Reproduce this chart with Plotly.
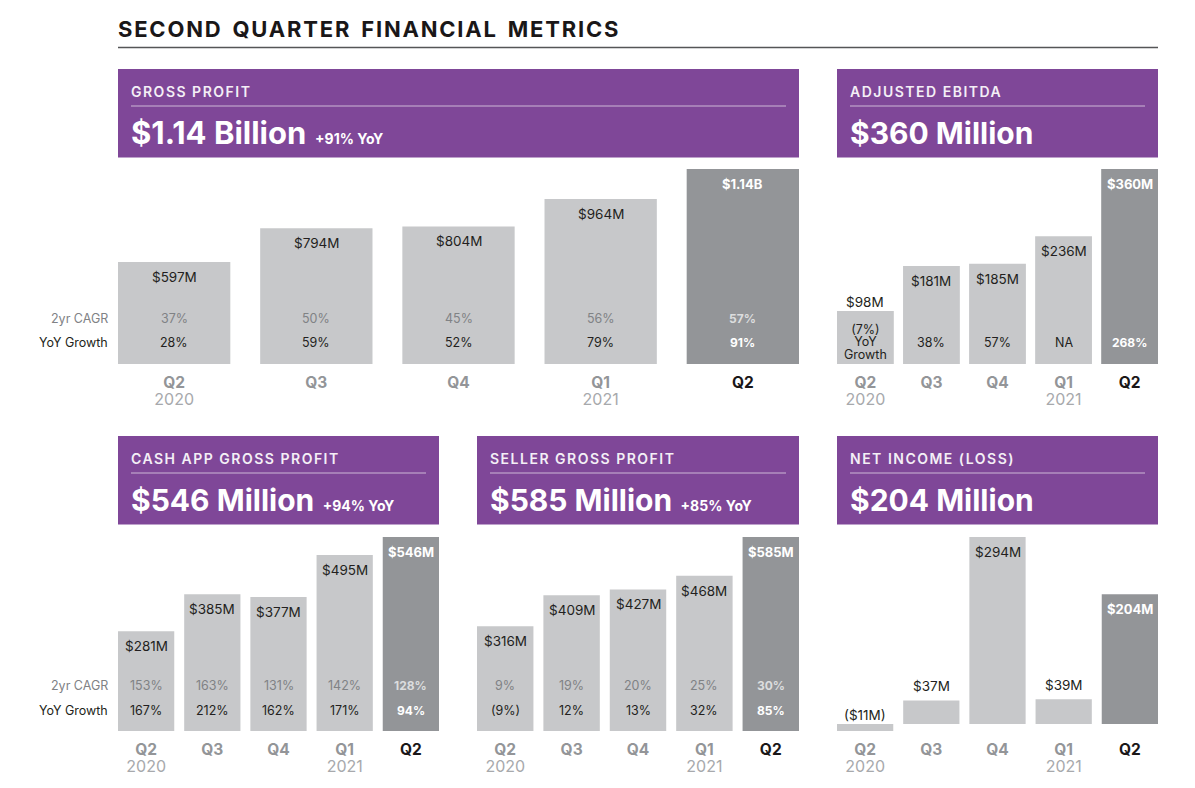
import plotly.graph_objects as go

W, H = 1195, 788
PURPLE = "#7f4798"
LIGHT_BAR = "#c7c8ca"
DARK_BAR = "#939598"
INK = "#231f20"
FONT = "Inter"

# ── Data ─────────────────────────────────────────────────────────
quarters = ["Q2 2020", "Q3 2020", "Q4 2020", "Q1 2021", "Q2 2021"]
tick_quarters = ["Q2", "Q3", "Q4", "Q1", "Q2"]
tick_years = ["2020", "", "", "2021", ""]

gross_values = [597, 794, 804, 964, 1140]
gross_labels = ["$597M", "$794M", "$804M", "$964M", "$1.14B"]
gross_cagr = ["37%", "50%", "45%", "56%", "57%"]
gross_yoy = ["28%", "59%", "52%", "79%", "91%"]

ebitda_values = [98, 181, 185, 236, 360]
ebitda_labels = ["$98M", "$181M", "$185M", "$236M", "$360M"]
ebitda_yoy = ["(7%)<br>YoY<br>Growth", "38%", "57%", "NA", "268%"]

cash_values = [281, 385, 377, 495, 546]
cash_labels = ["$281M", "$385M", "$377M", "$495M", "$546M"]
cash_cagr = ["153%", "163%", "131%", "142%", "128%"]
cash_yoy = ["167%", "212%", "162%", "171%", "94%"]

seller_values = [316, 409, 427, 468, 585]
seller_labels = ["$316M", "$409M", "$427M", "$468M", "$585M"]
seller_cagr = ["9%", "19%", "20%", "25%", "30%"]
seller_yoy = ["(9%)", "12%", "13%", "32%", "85%"]

net_values = [-11, 37, 294, 39, 204]
net_labels = ["($11M)", "$37M", "$294M", "$39M", "$204M"]


def px(x):
    return x / W


def py(y):
    return 1 - y / H


panels = [
    dict(name="GROSS PROFIT", big="$1.14 Billion", small="+91% YoY", big_size=31,
         vals=gross_values, labels=gross_labels, cagr=gross_cagr, yoy=gross_yoy,
         x0=118, x1=799, top=169, bottom=364, head=69, width=0.79, row_y=(318, 343), side=True),
    dict(name="ADJUSTED EBITDA", big="$360 Million", small="", big_size=30,
         vals=ebitda_values, labels=ebitda_labels, cagr=None, yoy=ebitda_yoy,
         x0=837, x1=1158, top=169, bottom=364, head=69, width=0.86, row_y=(318, 343), side=False),
    dict(name="CASH APP GROSS PROFIT", big="$546 Million", small="+94% YoY", big_size=30,
         vals=cash_values, labels=cash_labels, cagr=cash_cagr, yoy=cash_yoy,
         x0=118, x1=439, top=537, bottom=731, head=436, width=0.85, row_y=(685, 710), side=True),
    dict(name="SELLER GROSS PROFIT", big="$585 Million", small="+85% YoY", big_size=30,
         vals=seller_values, labels=seller_labels, cagr=seller_cagr, yoy=seller_yoy,
         x0=477, x1=799, top=537, bottom=731, head=436, width=0.85, row_y=(685, 710), side=False),
    dict(name="NET INCOME (LOSS)", big="$204 Million", small="", big_size=30,
         vals=net_values, labels=net_labels, cagr=None, yoy=None,
         x0=837, x1=1158, top=537, bottom=731, head=436, width=0.85, row_y=None, side=False),
]

fig = go.Figure()
shapes, notes = [], []


def note(x, y, text, size, color, anchor="center", xref="paper", yref="paper", yshift=0):
    notes.append(dict(x=x, y=y, xref=xref, yref=yref, text=text, showarrow=False,
                      xanchor=anchor, yanchor="middle", yshift=yshift, align=anchor,
                      font=dict(family=FONT, size=size, color=color)))


# Page title and rule
note(px(116), py(29),
     '<b><span style="letter-spacing:1.8px;word-spacing:3px">SECOND QUARTER FINANCIAL METRICS</span></b>',
     22, "#1a1718", "left")
shapes.append(dict(type="line", xref="paper", yref="paper", x0=px(118), x1=px(1158),
                   y0=py(47.5), y1=py(47.5), line=dict(color="#555657", width=1.5)))

for i, p in enumerate(panels):
    suffix = "" if i == 0 else str(i + 1)
    w = p["width"]
    colors = [LIGHT_BAR] * 4 + [DARK_BAR]
    fig.add_trace(go.Bar(x=quarters, y=p["vals"], width=w, marker=dict(color=colors, line_width=0),
                         xaxis="x" + suffix, yaxis="y" + suffix, showlegend=False,
                         hovertemplate="%{x}: %{y}M<extra></extra>"))

    ticktext = []
    for j, (q, yr) in enumerate(zip(tick_quarters, tick_years)):
        color = "#1a1718" if j == 4 else "#939598"
        t = f'<span style="font-size:15.5px;color:{color}"><b>{q}</b></span>'
        if yr:
            t += f'<br><span style="font-size:16px;color:#a7a9ac">{yr}</span>'
        ticktext.append(t)

    fig.update_layout({
        "xaxis" + suffix: dict(domain=[px(p["x0"]), px(p["x1"])], type="category",
                               categoryorder="array", categoryarray=quarters,
                               range=[-w / 2, 4 + w / 2], anchor="y" + suffix,
                               tickmode="array", tickvals=quarters, ticktext=ticktext,
                               ticks="outside", ticklen=7, tickcolor="rgba(0,0,0,0)",
                               showgrid=False, zeroline=False, showline=False,
                               tickfont=dict(family=FONT, size=13, color="#939598")),
        "yaxis" + suffix: dict(domain=[py(p["bottom"]), py(p["top"])],
                               range=[min(0, min(p["vals"])), max(p["vals"])],
                               anchor="x" + suffix, visible=False, showgrid=False, zeroline=False),
    })

    # Purple header
    shapes.append(dict(type="rect", xref="paper", yref="paper", x0=px(p["x0"]), x1=px(p["x1"]),
                       y0=py(p["head"]), y1=py(p["head"] + 88.5), fillcolor=PURPLE, line_width=0,
                       layer="below"))
    shapes.append(dict(type="line", xref="paper", yref="paper", x0=px(p["x0"] + 13), x1=px(p["x1"] - 13),
                       y0=py(p["head"] + 37), y1=py(p["head"] + 37),
                       line=dict(color="#cdb7d6", width=1.2)))
    note(px(p["x0"] + 11), py(p["head"] + 22.5),
         f'<span style="letter-spacing:1.5px;font-weight:600">{p["name"]}</span>', 14, "#f4eff6", "left")
    head_text = f'<b>{p["big"]}</b>'
    if p["small"]:
        head_text += f' <span style="font-size:14px"><b>{p["small"]}</b></span>'
    note(px(p["x0"] + 11), py(p["head"] + 64), head_text, p["big_size"], "white", "left")

    # Value labels: inside the bar unless it is too short
    x_ref, y_ref = "x" + suffix, "y" + suffix
    scale = (p["bottom"] - p["top"]) / (max(p["vals"]) - min(0, min(p["vals"])))
    for j, (q, v, lab) in enumerate(zip(quarters, p["vals"], p["labels"])):
        if v * scale < 60:
            lift = 14 if 30 < v < 50 else 9
            note(q, max(v, 0), lab, 13.5, INK, xref=x_ref, yref=y_ref, yshift=lift)
        elif j == 4:
            note(q, v, f"<b>{lab}</b>", 13, "white", xref=x_ref, yref=y_ref, yshift=-15)
        else:
            note(q, v, lab, 13.5, INK, xref=x_ref, yref=y_ref, yshift=-15)

    # Growth rows
    if p["yoy"]:
        y_cagr, y_yoy = p["row_y"]
        for j, q in enumerate(quarters):
            if p["cagr"]:
                if j == 4:
                    note(q, py(y_cagr), f'<b>{p["cagr"][j]}</b>', 12, "#dcddde", xref=x_ref)
                else:
                    note(q, py(y_cagr), p["cagr"][j], 12.5, "#808285", xref=x_ref)
            if "<br>" in p["yoy"][j]:
                # tight three-line label: annotation line height follows the base font size
                note(q, py(y_yoy - 1), f'<span style="font-size:12.5px">{p["yoy"][j]}</span>',
                     9.6, INK, xref=x_ref)
            elif j == 4:
                note(q, py(y_yoy), f'<b>{p["yoy"][j]}</b>', 12, "white", xref=x_ref)
            else:
                note(q, py(y_yoy), p["yoy"][j], 12.5, INK, xref=x_ref)
    if p["side"]:
        note(px(110), py(p["row_y"][0]), "2yr CAGR", 12.5, "#808285", "right")
        note(px(110), py(p["row_y"][1]), "YoY Growth", 12.5, INK, "right")

fig.update_layout(
    width=W, height=H, margin=dict(l=0, r=0, t=0, b=0),
    paper_bgcolor="white", plot_bgcolor="white",
    shapes=shapes, annotations=notes,
    font=dict(family=FONT),
)

fig.write_html("out.html", config=dict(displayModeBar=False),
               post_script="document.body.style.margin='0';")
